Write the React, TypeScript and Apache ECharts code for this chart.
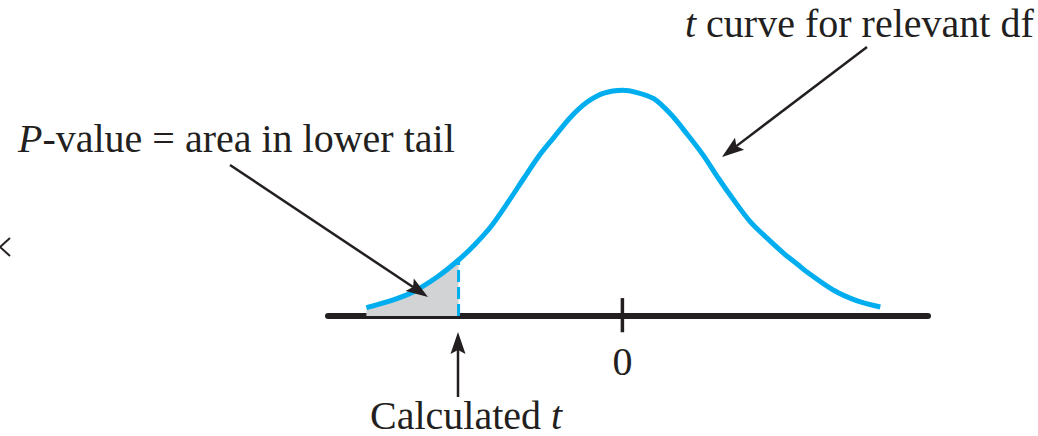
import React, { useEffect, useRef } from "react";
import * as echarts from "echarts";

// t values (horizontal position, in t units) and curve heights
const curveT = [-4.0, -3.58, -3.27, -2.89, -2.56, -2.32, -2.06, -1.8, -1.54, -1.31, -1.07, -0.81, -0.55, -0.29, 0, 0.23, 0.49, 0.75, 1.01, 1.27, 1.5, 1.74, 2.0, 2.26, 2.52, 2.75, 2.89, 3.3, 3.67, 4.03];
const curveDensity = [0.015, 0.029, 0.043, 0.07, 0.1, 0.126, 0.159, 0.201, 0.246, 0.285, 0.319, 0.355, 0.382, 0.398, 0.403, 0.399, 0.388, 0.361, 0.325, 0.286, 0.246, 0.207, 0.168, 0.139, 0.112, 0.091, 0.078, 0.046, 0.027, 0.016];
const calculatedT = -2.56;
const tickValues = [0];
const tickLabels = ["0"];
const tickExtent = [-0.029, 0.032];

const BLUE = "#00aeef";
const INK = "#231f20";
const GRAY = "#d1d3d4";
const FONT = "Liberation Serif";

function arrow(x1: number, y1: number, x2: number, y2: number) {
  const dx = x2 - x1;
  const dy = y2 - y1;
  const len = Math.hypot(dx, dy);
  const ux = dx / len;
  const uy = dy / len;
  const hl = 22;
  const hw = 7.5;
  const bx = x2 - ux * hl;
  const by = y2 - uy * hl;
  const px = -uy;
  const py = ux;
  const nx = x2 - ux * (hl - 4);
  const ny = y2 - uy * (hl - 4);
  return [
    { type: "line", shape: { x1, y1, x2: nx, y2: ny }, style: { stroke: INK, lineWidth: 2.5 }, z: 10 },
    {
      type: "polygon",
      shape: { points: [[x2, y2], [bx + px * hw, by + py * hw], [nx, ny], [bx - px * hw, by - py * hw]] },
      style: { fill: INK },
      z: 10,
    },
  ];
}

function label(text: string, x: number, y: number, lineHeight = 40) {
  return {
    type: "text",
    x,
    y,
    style: {
      text,
      rich: { i: { fontStyle: "italic", fontSize: 40, fontFamily: FONT, fill: INK, lineHeight } },
      fontSize: 40,
      fontFamily: FONT,
      fill: INK,
      lineHeight,
      verticalAlign: "middle",
    },
    z: 10,
  };
}

export default function App() {
  const ref = useRef<HTMLDivElement>(null);
  useEffect(() => {
    if (!ref.current) return;
    const chart = echarts.init(ref.current, null, { renderer: "svg" });
    const curve = curveT.map((t, i) => [t, curveDensity[i]]);
    const tail = curve.filter((p) => p[0] <= calculatedT + 1e-9);
    const tHeight = curveDensity[curveT.indexOf(calculatedT)];

    chart.setOption({
      animation: false,
      grid: { left: 328, right: 110, top: 36, bottom: 120, containLabel: false, outerBoundsMode: "none" },
      xAxis: {
        type: "value",
        min: -4.6,
        max: 4.775,
        axisLine: { show: true, onZero: false, lineStyle: { color: INK, width: 6 } },
        axisTick: { show: false },
        splitLine: { show: false },
        axisLabel: {
          customValues: tickValues,
          formatter: (v: number) => tickLabels[tickValues.indexOf(v)] ?? "",
          fontSize: 40,
          fontFamily: FONT,
          color: INK,
          margin: 25,
        },
      },
      yAxis: { type: "value", min: 0, max: 0.5, show: false },
      series: [
        {
          type: "line",
          data: tail,
          smooth: 0.3,
          symbol: "none",
          lineStyle: { width: 0 },
          areaStyle: { color: GRAY, opacity: 1 },
          z: 1,
        },
        {
          type: "line",
          data: [[calculatedT, 0], [calculatedT, tHeight]],
          symbol: "none",
          lineStyle: { color: BLUE, width: 3, type: [12, 5] },
          z: 2,
        },
        {
          type: "line",
          data: curve,
          smooth: 0.3,
          symbol: "none",
          lineStyle: { color: BLUE, width: 5 },
          z: 3,
        },
        {
          type: "line",
          data: tickExtent.map((h) => [tickValues[0], h]),
          symbol: "none",
          clip: false,
          lineStyle: { color: INK, width: 3.5 },
          z: 4,
        },
      ],
      graphic: [
        label("{i|P}-value = area in lower tail", 18, 138.5),
        label("{i|t} curve for relevant df", 685, 23.5),
        label("Calculated {i|t}", 370, 415, 30),
        ...arrow(230, 165, 428, 297),
        ...arrow(867, 47, 722, 157),
        ...arrow(458, 397, 458, 332),
        {
          type: "polyline",
          shape: { points: [[10, 238], [0, 247], [10, 256]] },
          style: { stroke: INK, lineWidth: 2, fill: "none" },
        },
      ],
    });
    return () => chart.dispose();
  }, []);
  return (
    <div
      ref={ref}
      style={{ position: "fixed", left: 0, top: 0, width: 1038, height: 436, background: "#fff" }}
    />
  );
}
